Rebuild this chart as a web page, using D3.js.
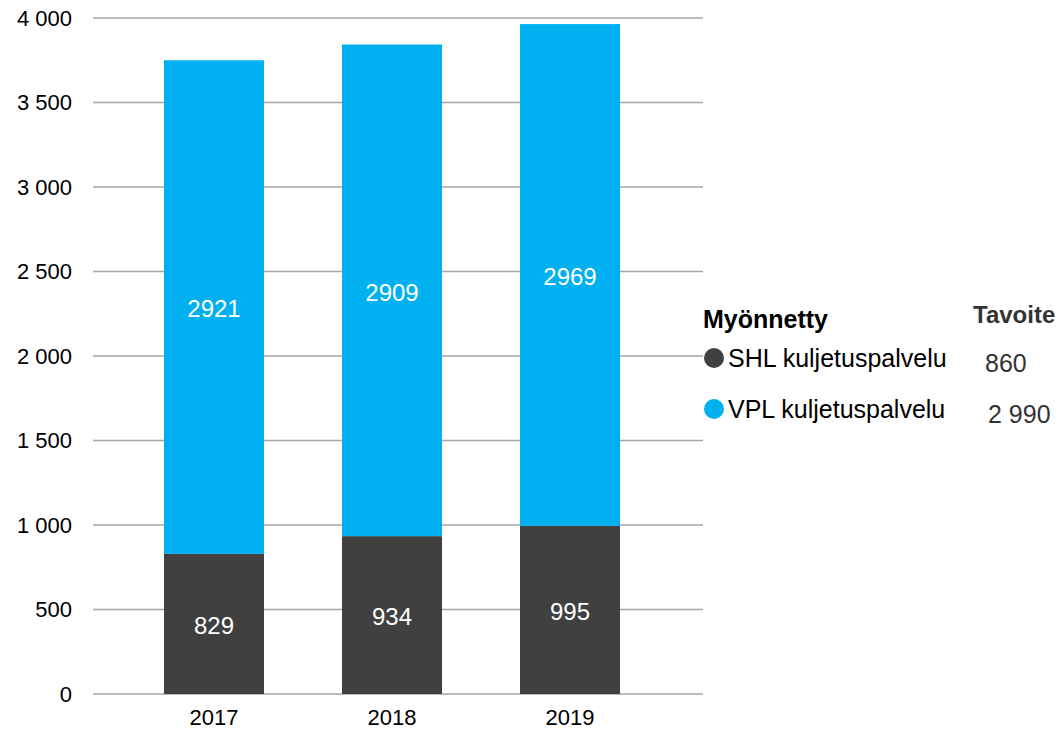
<!DOCTYPE html>
<html><head><meta charset="utf-8">
<script src="https://cdn.jsdelivr.net/npm/d3@7"></script>
<style>body{margin:0;background:#fff;} svg{display:block;font-family:"Liberation Sans",Arial,sans-serif;}</style>
</head><body>
<svg id="c" width="1060" height="733"></svg>
<script>
const years = ["2017", "2018", "2019"];
const shl = [829, 934, 995];
const vpl = [2921, 2909, 2969];
const yTicks = [0, 500, 1000, 1500, 2000, 2500, 3000, 3500, 4000];
const seriesNames = ["SHL kuljetuspalvelu", "VPL kuljetuspalvelu"];
const seriesColors = ["#404040", "#00b0f0"];
const targets = ["860", "2 990"];

const svg = d3.select("#c");
const y = d3.scaleLinear().domain([0, 4000]).range([694, 18]);
const x = d3.scaleBand().domain(years).range([125, 659]).paddingInner(0.438).paddingOuter(0.219);

const fmt = v => d3.format(",")(v).replace(/,/g, " ");

// gridlines
svg.append("g").selectAll("line").data(yTicks).join("line")
  .attr("x1", 93).attr("x2", 703)
  .attr("y1", d => y(d)).attr("y2", d => y(d))
  .attr("stroke", "#a6a6a6").attr("stroke-width", 1.5);

// y tick labels
svg.append("g").selectAll("text").data(yTicks).join("text")
  .attr("x", 72).attr("y", d => y(d)).attr("dy", "0.35em")
  .attr("text-anchor", "end").attr("font-size", 22).attr("fill", "#000")
  .text(fmt);

const data = years.map((yr, i) => ({yr, shl: shl[i], vpl: vpl[i]}));
const stack = d3.stack().keys(["shl", "vpl"])(data);

const g = svg.append("g");
stack.forEach((layer, li) => {
  g.append("g").selectAll("rect").data(layer).join("rect")
    .attr("x", d => x(d.data.yr)).attr("width", x.bandwidth())
    .attr("y", d => y(d[1])).attr("height", d => y(d[0]) - y(d[1]))
    .attr("fill", seriesColors[li]);
  g.append("g").selectAll("text").data(layer).join("text")
    .attr("x", d => x(d.data.yr) + x.bandwidth() / 2)
    .attr("y", d => (y(d[0]) + y(d[1])) / 2 + 2).attr("dy", "0.35em")
    .attr("text-anchor", "middle").attr("font-size", 24).attr("fill", "#fff")
    .text(d => d[1] - d[0]);
});

// x labels
svg.append("g").selectAll("text").data(years).join("text")
  .attr("x", d => x(d) + x.bandwidth() / 2).attr("y", 717).attr("dy", "0.35em")
  .attr("text-anchor", "middle").attr("font-size", 22).attr("fill", "#000")
  .text(d => d);

// legend
const lg = svg.append("g");
lg.append("text").attr("x", 703).attr("y", 328).attr("font-size", 25).attr("font-weight", "bold").attr("fill", "#000").text("Myönnetty");
lg.append("text").attr("x", 973).attr("y", 323).attr("font-size", 24).attr("font-weight", "bold").attr("fill", "#333").text("Tavoite");
seriesNames.forEach((n, i) => {
  const cy = 358 + i * 51;
  lg.append("circle").attr("cx", 714).attr("cy", cy).attr("r", 10).attr("fill", seriesColors[i]);
  lg.append("text").attr("x", 728).attr("y", cy + 9).attr("font-size", 25).attr("fill", "#000").text(n);
  lg.append("text").attr("x", i === 0 ? 985 : 988).attr("y", cy + 14).attr("font-size", 25).attr("fill", "#333").text(targets[i]);
});
</script>
</body></html>
